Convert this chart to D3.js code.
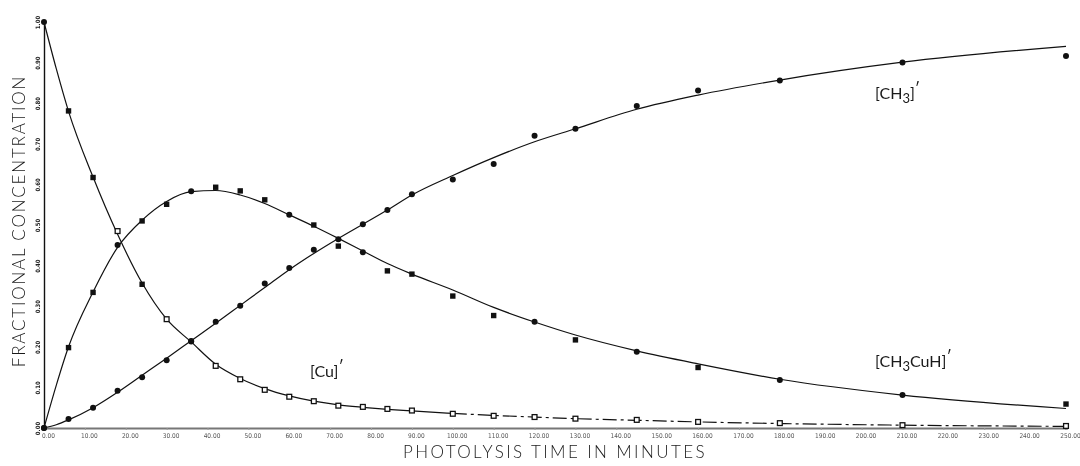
<!DOCTYPE html>
<html>
<head>
<meta charset="utf-8">
<script src="https://cdn.jsdelivr.net/npm/d3@7"></script>
<style>
  html, body { margin: 0; padding: 0; background: #fff; }
  svg { display: block; will-change: transform; }
  text { -webkit-font-smoothing: antialiased; }
  .title { font-family: Lato, "Open Sans", "DejaVu Sans", sans-serif; font-weight: 300; fill: #1a1a1a; }
  .species { font-family: Lato, "Open Sans", "DejaVu Sans", sans-serif; font-weight: 400; fill: #1a1a1a; }
</style>
</head>
<body>
<svg id="chart" width="1080" height="466"></svg>
<script>
// Sampling times of the measurements (minutes)
const times = [0, 6, 12, 18, 24, 30, 36, 42, 48, 54, 60, 66, 72, 78, 84, 90,
               100, 110, 120, 130, 145, 160, 180, 210, 250];

// Measured fractional concentrations
const ch3Values = [0.0, 0.022, 0.05, 0.092, 0.125, 0.167, 0.214, 0.262, 0.301, 0.356,
                   0.394, 0.439, 0.465, 0.502, 0.537, 0.576, 0.612, 0.650, 0.720, 0.737,
                   0.793, 0.831, 0.856, 0.900, 0.916];
const ch3cuhValues = [0.0, 0.198, 0.334, 0.451, 0.510, 0.551, 0.583, 0.593, 0.584, 0.562,
                      0.525, 0.500, 0.448, 0.433, 0.387, 0.379, 0.325, 0.277, 0.262, 0.217,
                      0.188, 0.149, 0.118, 0.081, 0.059];
const cuValues = [1.0, 0.781, 0.617, 0.485, 0.354, 0.268, 0.213, 0.153, 0.120, 0.094,
                  0.077, 0.066, 0.055, 0.052, 0.047, 0.043, 0.035, 0.030, 0.027, 0.023,
                  0.020, 0.015, 0.012, 0.007, 0.005];

// Marker kind per measurement: c = filled circle, s = filled square, o = open square
const ch3Marks = times.map(() => "c");
const ch3cuhMarks = ["c", "s", "s", "c", "s", "s", "c", "s", "s", "s", "c", "s", "s", "c", "s", "s",
                     "s", "s", "c", "s", "c", "s", "c", "c", "s"];
const cuMarks = ["c", "s", "s", "o", "s", "o", "c", "o", "o", "o", "o", "o", "o", "o", "o", "o",
                 "o", "o", "o", "o", "o", "o", "o", "o", "o"];

// Fitted kinetic curves
const fitTimes = [0, 3, 6, 12, 18, 24, 30, 36, 42, 48, 54, 60, 66, 72, 78, 84, 90,
                  100, 110, 120, 130, 145, 160, 180, 210, 250];
const ch3Fit = [0, 0.008, 0.02, 0.05, 0.088, 0.13, 0.172, 0.215, 0.258, 0.302, 0.346, 0.39,
                0.43, 0.467, 0.502, 0.537, 0.574, 0.622, 0.666, 0.705, 0.737, 0.785, 0.82,
                0.857, 0.901, 0.94];
const ch3cuhFit = [0, 0.105, 0.2, 0.335, 0.445, 0.512, 0.558, 0.582, 0.585, 0.574, 0.553,
                   0.525, 0.497, 0.467, 0.436, 0.405, 0.379, 0.34, 0.297, 0.261, 0.229, 0.19,
                   0.158, 0.12, 0.081, 0.048];
const cuFit = [1.0, 0.885, 0.78, 0.618, 0.477, 0.357, 0.268, 0.212, 0.157, 0.122, 0.097,
               0.079, 0.066, 0.057, 0.051, 0.046, 0.042, 0.036, 0.031, 0.027, 0.023, 0.019,
               0.015, 0.011, 0.007, 0.004];

// Axis ticks
const xTicks = d3.range(0, 251, 10);
const yTicks = d3.range(0, 11).map(i => i / 10);

const svg = d3.select("#chart");
const x = d3.scaleLinear().domain([0, 250]).range([44, 1066]);
const y = d3.scaleLinear().domain([0, 1]).range([428, 22]);

// X axis
const xAxis = svg.append("g")
  .attr("transform", `translate(0,${y(0)})`)
  .call(d3.axisBottom(x).tickValues(xTicks).tickFormat(d3.format(".2f")).tickSize(2).tickPadding(3));
xAxis.select(".domain").attr("stroke", "#777").attr("stroke-width", 2.2);
xAxis.selectAll(".tick line").attr("stroke", "#999");
xAxis.selectAll(".tick text")
  .attr("dx", 4)
  .attr("fill", "#555")
  .style("font-family", "'DejaVu Sans Condensed', 'DejaVu Sans', sans-serif")
  .style("font-size", "6.5px");

// Y axis with rotated labels
const yAxis = svg.append("g")
  .attr("transform", `translate(${x(0)},0)`)
  .call(d3.axisLeft(y).tickValues(yTicks).tickFormat(d3.format(".2f")).tickSize(0).tickPadding(0));
yAxis.select(".domain").attr("stroke", "#111").attr("stroke-width", 1.4);
yAxis.selectAll(".tick text")
  .attr("x", null).attr("dy", null)
  .attr("text-anchor", "middle")
  .attr("transform", "translate(-4,0) rotate(-90)")
  .attr("fill", "#222")
  .style("font-family", "'DejaVu Sans Condensed', 'DejaVu Sans', sans-serif")
  .style("font-weight", "bold")
  .style("font-size", "6px");

// Fitted curves
const line = d3.line()
  .x(d => x(d[0]))
  .y(d => y(d[1]))
  .curve(d3.curveMonotoneX);
const pairs = vals => fitTimes.map((t, i) => [t, vals[i]]);

const curves = svg.append("g").attr("fill", "none").attr("stroke", "#111").attr("stroke-width", 1.2);
curves.append("path").attr("d", line(pairs(ch3Fit)));
curves.append("path").attr("d", line(pairs(ch3cuhFit)));
const cuPairs = pairs(cuFit);
curves.append("path").attr("d", line(cuPairs.filter(d => d[0] <= 100)));
curves.append("path").attr("d", line(cuPairs.filter(d => d[0] >= 100)))
  .attr("stroke-dasharray", "14,4,3,4");

// Measurement markers
function drawMarkers(values, marks) {
  const g = svg.append("g");
  times.forEach((t, i) => {
    const cx = x(t), cy = y(values[i]), kind = marks[i];
    if (kind === "c") {
      g.append("circle").attr("cx", cx).attr("cy", cy).attr("r", 3).attr("fill", "#111");
    } else if (kind === "s") {
      g.append("rect").attr("x", cx - 2.7).attr("y", cy - 2.7)
        .attr("width", 5.4).attr("height", 5.4).attr("fill", "#111");
    } else {
      g.append("rect").attr("x", cx - 2.4).attr("y", cy - 2.4)
        .attr("width", 4.8).attr("height", 4.8)
        .attr("fill", "#fff").attr("stroke", "#111").attr("stroke-width", 1.3);
    }
  });
}
drawMarkers(cuValues, cuMarks);
drawMarkers(ch3cuhValues, ch3cuhMarks);
drawMarkers(ch3Values, ch3Marks);

// Species labels
function species(px, py, parts) {
  const t = svg.append("text").attr("class", "species")
    .attr("x", px).attr("y", py).style("font-size", "16px");
  parts.forEach(p => {
    const ts = t.append("tspan").text(p.s);
    if (p.sub) ts.attr("dy", 4).style("font-size", "13px");
    if (p.up) ts.attr("dy", p.up);
  });
  return t;
}
species(875, 99, [{ s: "[CH" }, { s: "3", sub: true }, { s: "]", up: -4 }, { s: "′", up: -5 }]);
species(875, 367, [{ s: "[CH" }, { s: "3", sub: true }, { s: "CuH]", up: -4 }, { s: "′", up: -5 }]);
species(310, 377, [{ s: "[Cu]" }, { s: "′", up: -5 }]);

// Axis titles
svg.append("text").attr("class", "title")
  .attr("x", 555).attr("y", 458)
  .attr("text-anchor", "middle")
  .style("font-size", "17px").style("letter-spacing", "2.4px")
  .text("PHOTOLYSIS TIME IN MINUTES");
svg.append("text").attr("class", "title")
  .attr("transform", "translate(25,221) rotate(-90)")
  .attr("text-anchor", "middle")
  .style("font-size", "17px").style("letter-spacing", "1.8px")
  .text("FRACTIONAL CONCENTRATION");
</script>
</body>
</html>
